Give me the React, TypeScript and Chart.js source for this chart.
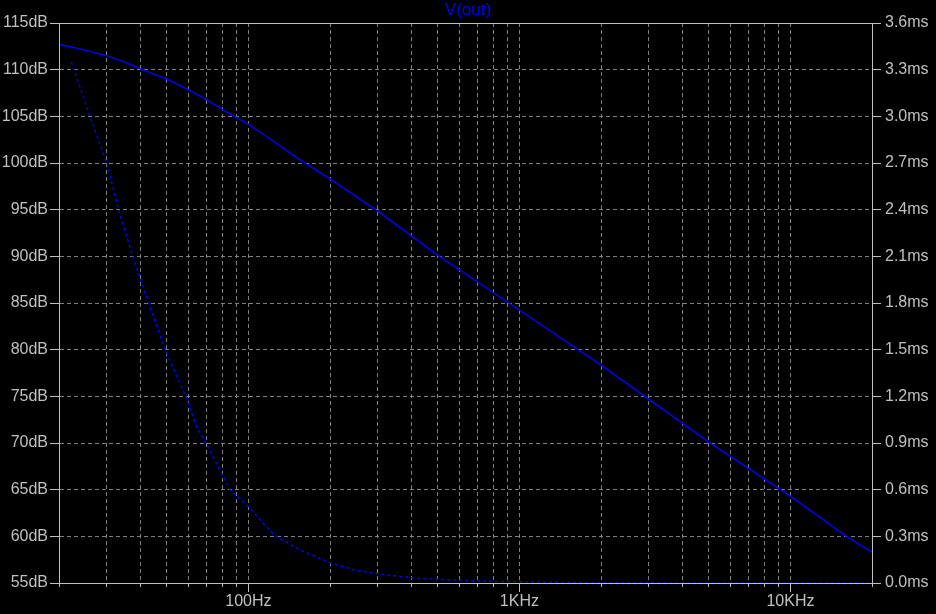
import React, { useEffect, useRef } from 'react';
import { Chart, registerables } from 'chart.js';

Chart.register(...registerables);

// Magnitude of V(out), dB (left axis)
const magFreqHz = [20, 22, 25, 28, 30, 35, 40, 45, 50, 60, 70, 80, 100, 120, 150, 200, 300, 500, 1000, 2000, 5000, 10000, 16100, 20000];
const magDb = [112.7, 112.45, 112.1, 111.7, 111.5, 110.8, 110.1, 109.5, 109.0, 107.85, 106.8, 105.75, 104.15, 102.6, 100.6, 98.3, 94.85, 90.1, 84.25, 78.35, 70.1, 64.3, 60.0, 58.3];

// Group delay of V(out), ms (right axis)
const gdFreqHz = [22.2, 25, 26, 30, 33.2, 37.4, 42.8, 49.3, 58.7, 64.5, 69.6, 85.6, 100, 124, 154, 200, 244, 306, 406, 510, 736, 1260, 2000, 5000, 20000];
const gdMs = [3.35, 3.09, 3.0, 2.7, 2.4, 2.1, 1.8, 1.5, 1.2, 1.0, 0.9, 0.6, 0.49, 0.31, 0.215, 0.13, 0.085, 0.056, 0.033, 0.022, 0.012, 0.005, 0.002, 0.0005, 0.0];

// Axis ticks
const xTickValues = [20, 30, 40, 50, 60, 70, 80, 90, 100, 200, 300, 400, 500, 600, 700, 800, 900, 1000, 2000, 3000, 4000, 5000, 6000, 7000, 8000, 9000, 10000, 20000];
const xMajorValues = [100, 1000, 10000];
const xMajorLabels = ['100Hz', '1KHz', '10KHz'];
const leftTickValues = [55, 60, 65, 70, 75, 80, 85, 90, 95, 100, 105, 110, 115];
const rightTickValues = [0, 0.3, 0.6, 0.9, 1.2, 1.5, 1.8, 2.1, 2.4, 2.7, 3.0, 3.3, 3.6];

const AXIS = '#c0c0c0';
const GRID = '#808080';
const BLUE = '#0000ff';
const FONT = "'Liberation Sans', Arial, sans-serif";

export default function App() {
  const ref = useRef<HTMLCanvasElement | null>(null);

  useEffect(() => {
    const canvas = ref.current;
    if (!canvas) return;

    const frame = {
      id: 'frame',
      beforeDraw(chart: any) {
        const c = chart.ctx;
        c.save();
        c.fillStyle = '#000';
        c.fillRect(0, 0, chart.width, chart.height);
        c.restore();
      },
      afterDraw(chart: any) {
        const c = chart.ctx;
        const a = chart.chartArea;
        const xs = chart.scales.x;
        c.save();
        c.strokeStyle = AXIS;
        c.lineWidth = 1;
        c.setLineDash([]);
        c.strokeRect(Math.round(a.left) + 0.5, Math.round(a.top) + 0.5, Math.round(a.right - a.left), Math.round(a.bottom - a.top));
        c.beginPath();
        for (const v of xMajorValues) {
          const px = Math.round(xs.getPixelForValue(v)) + 0.5;
          c.moveTo(px, Math.round(a.bottom));
          c.lineTo(px, Math.round(a.bottom) + 9);
        }
        c.stroke();
        c.restore();
      },
    };

    const chart = new Chart(canvas, {
      type: 'line',
      data: {
        datasets: [
          {
            label: 'V(out) dB',
            data: magFreqHz.map((f, i) => ({ x: f, y: magDb[i] })),
            yAxisID: 'yL',
            borderColor: BLUE,
            borderWidth: 1.4,
            pointRadius: 0,
            tension: 0,
          },
          {
            label: 'V(out) group delay',
            data: gdFreqHz.map((f, i) => ({ x: f, y: gdMs[i] })),
            yAxisID: 'yR',
            borderColor: BLUE,
            borderWidth: 1.4,
            borderDash: [3, 3],
            pointRadius: 0,
            tension: 0,
          },
        ],
      },
      options: {
        animation: false,
        responsive: false,
        devicePixelRatio: 1,
        layout: { padding: 0 },
        plugins: {
          legend: { display: false },
          tooltip: { enabled: false },
          title: {
            display: true,
            text: 'V(out)',
            color: BLUE,
            font: { family: FONT, size: 17, weight: 'normal', lineHeight: 1 },
            padding: { top: 2, bottom: 4 },
          },
        },
        scales: {
          x: {
            type: 'logarithmic',
            min: 20,
            max: 20000,
            afterBuildTicks: (s: any) => {
              s.ticks = xTickValues.map((v) => ({ value: v }));
            },
            afterFit: (s: any) => {
              s.height = 31;
            },
            ticks: {
              autoSkip: false,
              maxRotation: 0,
              minRotation: 0,
              color: AXIS,
              font: { family: FONT, size: 16 },
              padding: 5,
              callback: (v: any) => {
                const i = xMajorValues.indexOf(Number(v));
                return i >= 0 ? xMajorLabels[i] : '';
              },
            },
            grid: { color: GRID, tickColor: AXIS, tickLength: 4, lineWidth: 1 },
            border: { display: true, color: AXIS, dash: [4, 3] },
          },
          yL: {
            type: 'linear',
            position: 'left',
            min: 55,
            max: 115,
            afterBuildTicks: (s: any) => {
              s.ticks = leftTickValues.map((v) => ({ value: v }));
            },
            afterFit: (s: any) => {
              s.width = 59;
            },
            ticks: {
              color: AXIS,
              font: { family: FONT, size: 16 },
              padding: 2,
              callback: (v: any) => `${v}dB`,
            },
            grid: { color: GRID, tickColor: AXIS, tickLength: 9, lineWidth: 1 },
            border: { display: true, color: AXIS, dash: [4, 3] },
          },
          yR: {
            type: 'linear',
            position: 'right',
            min: 0,
            max: 3.6,
            afterBuildTicks: (s: any) => {
              s.ticks = rightTickValues.map((v) => ({ value: v }));
            },
            afterFit: (s: any) => {
              s.width = 64;
            },
            ticks: {
              color: AXIS,
              font: { family: FONT, size: 16 },
              padding: 4,
              callback: (v: any) => `${Number(v).toFixed(1)}ms`,
            },
            grid: { drawOnChartArea: false, tickColor: AXIS, tickLength: 9 },
            border: { display: true, color: AXIS },
          },
        },
      } as any,
      plugins: [frame],
    });

    return () => chart.destroy();
  }, []);

  return (
    <div style={{ position: 'absolute', left: 0, top: 0, width: 936, height: 614, background: '#000' }}>
      <canvas ref={ref} width={936} height={614} style={{ display: 'block' }} />
    </div>
  );
}
